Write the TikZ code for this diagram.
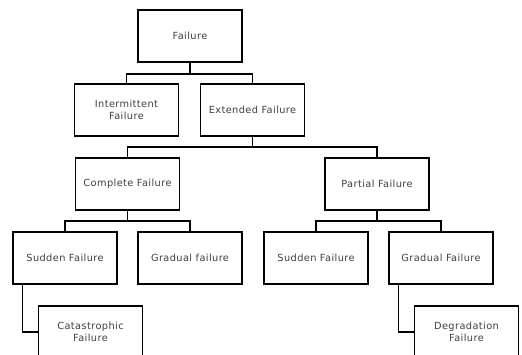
\documentclass[tikz,border=0pt]{standalone}
\usepackage{fontspec}
\setmainfont{DejaVu Sans}[LetterSpace=4]
\begin{document}
\begin{tikzpicture}[x=1pt,y=-1pt,
  box/.style={draw=black,line width=1.5pt,minimum width=104pt,minimum height=52pt,
    align=center,inner sep=2pt,font=\fontsize{9.8}{12.5}\selectfont,text=black!75},
  link/.style={draw=black,line width=1.5pt}]
\clip (0,0) rectangle (522,354);
\fill[white] (0,0) rectangle (522,354);

\node[box] (fail)  at (190,36)    {Failure};
\node[box] (inter) at (126.5,110) {Intermittent\\Failure};
\node[box] (ext)   at (252.5,110) {Extended Failure};
\node[box] (comp)  at (127.5,184) {Complete Failure};
\node[box] (part)  at (377,184)   {Partial Failure};
\node[box] (sud1)  at (65,258)    {Sudden Failure};
\node[box] (grad1) at (190,258)   {Gradual failure};
\node[box] (sud2)  at (316,258)   {Sudden Failure};
\node[box] (grad2) at (441,258)   {Gradual Failure};
\node[box] (cat)   at (90.5,332)  {Catastrophic\\Failure};
\node[box] (deg)   at (466.5,332) {Degradation\\Failure};

% tree connectors (yshift is in page units, so downward is negative)
\draw[link] (fail.south) -- ++(0,11);
\draw[link] (inter.north) |- ([yshift=-11pt]fail.south) -| (ext.north);
\draw[link] (ext.south) -- ++(0,10);
\draw[link] (comp.north) |- ([yshift=-10pt]ext.south) -| (part.north);
\draw[link] (comp.south) -- ++(0,10);
\draw[link] (sud1.north) |- ([yshift=-10pt]comp.south) -| (grad1.north);
\draw[link] (part.south) -- ++(0,10);
\draw[link] (sud2.north) |- ([yshift=-10pt]part.south) -| (grad2.north);
\draw[link] ([xshift=10pt]sud1.south west) |- (cat.west);
\draw[link] ([xshift=10pt]grad2.south west) |- (deg.west);
\end{tikzpicture}
\end{document}
